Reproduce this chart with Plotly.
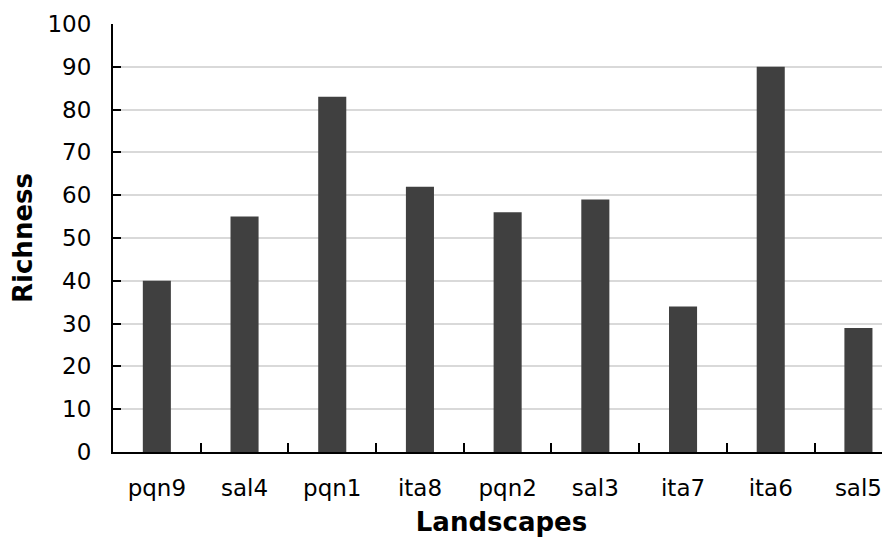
import plotly.graph_objects as go

categories = ["pqn9", "sal4", "pqn1", "ita8", "pqn2", "sal3", "ita7", "ita6", "sal5"]
richness = [40, 55, 83, 62, 56, 59, 34, 90, 29]
y_ticks = list(range(0, 101, 10))

# the reference plot area runs past the right image edge; show ~8.86 categories
x_range = [-0.5, 8.36]

fig = go.Figure(go.Bar(x=categories, y=richness, marker=dict(color="#404040", line=dict(width=0)), width=0.32))

font = "DejaVu Sans, Verdana, sans-serif"
# page body has an 8px default margin, so the figure is sized/offset to compensate
fig.update_layout(
    width=882, height=529,
    margin=dict(l=105, r=0, t=16, b=85),
    plot_bgcolor="white", paper_bgcolor="white",
    font=dict(family=font, size=23, color="black"),
    showlegend=False,
    xaxis=dict(
        title=dict(text="<b>Landscapes</b>", font=dict(size=26), standoff=22),
        showline=True, linecolor="black", linewidth=2,
        ticks="", showgrid=False, automargin=False,
        range=x_range, ticklabelstandoff=14,
    ),
    yaxis=dict(
        title=dict(text="<b>Richness</b>", font=dict(size=26), standoff=17),
        range=[0, 100], tickvals=y_ticks,
        showline=True, linecolor="black", linewidth=2,
        ticks="inside", ticklen=8, tickwidth=2, tickcolor="black",
        showgrid=True, gridcolor="#d9d9d9", gridwidth=2,
        zeroline=False, ticklabelstandoff=15, automargin=False,
    ),
)

# category boundary tick marks on x axis (inside), drawn via a secondary axis
fig.update_layout(
    xaxis2=dict(
        overlaying="x", range=x_range,
        tickvals=[i + 0.5 for i in range(len(categories) - 1)],
        ticks="inside", ticklen=9, tickwidth=2, tickcolor="black",
        showticklabels=False, showgrid=False, showline=False, zeroline=False,
        side="bottom", anchor="y", automargin=False,
    )
)
fig.add_trace(go.Scatter(x=[0], y=[0], xaxis="x2", mode="markers", marker=dict(opacity=0), hoverinfo="skip"))

fig.write_html("out.html")
